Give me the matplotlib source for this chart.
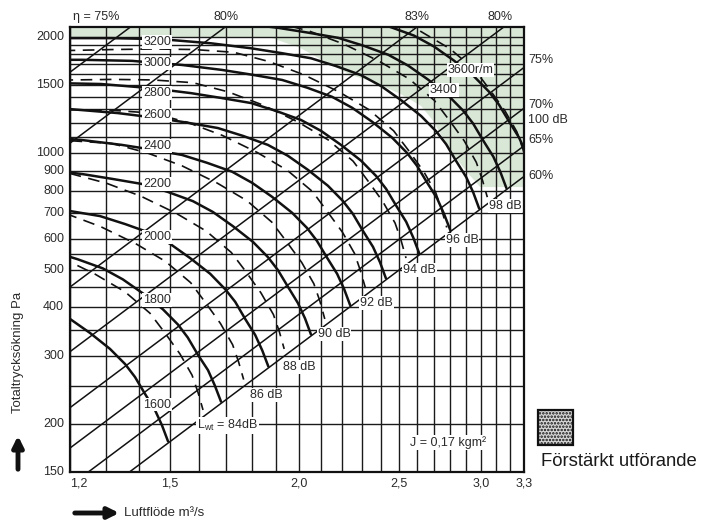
import matplotlib
matplotlib.use('Agg')
import matplotlib.pyplot as plt
from matplotlib.patches import Rectangle, FancyArrowPatch

plt.rcParams['font.family'] = ['Liberation Sans', 'DejaVu Sans']
plt.rcParams['mathtext.fontset'] = 'custom'
plt.rcParams['mathtext.rm'] = 'Liberation Sans'
plt.rcParams['hatch.linewidth'] = 1.2

# grid values
flow_grid = [1.2, 1.3, 1.4, 1.5, 1.6, 1.7, 1.8, 1.9, 2.0, 2.1, 2.2, 2.3, 2.4, 2.5,
             2.6, 2.7, 2.8, 2.9, 3.0, 3.1, 3.2, 3.3]
press_grid = [150, 200, 250, 300, 350, 400, 450, 500, 550, 600, 700, 800, 900, 1000,
              1100, 1200, 1300, 1400, 1500, 1600, 1700, 1800, 1900, 2000]
flow_ticks = [1.224, 1.5, 2.0, 2.5, 3.0, 3.3]
flow_tick_labels = ['1,2', '1,5', '2,0', '2,5', '3,0', '3,3']
press_ticks = [150, 200, 300, 400, 500, 600, 700, 800, 900, 1000, 1500, 2000]

# reinforced-version area (upper boundary = top of chart)
green_q = [1.2, 1.87, 2.0, 2.15, 2.24, 2.36, 2.5, 2.62, 2.69, 2.75, 2.81, 2.91, 2.99, 3.3]
green_p = [2000, 2000, 1880, 1690, 1600, 1530, 1430, 1330, 1220, 1100, 1000, 890, 820, 820]

# efficiency lines (two end points each)
eff_q1 = [1.2, 1.2, 1.2, 1.2, 1.2, 1.2, 1.25, 1.37]
eff_p1 = [1620, 1062, 451, 307, 220, 173, 150, 150]
eff_q2 = [1.373, 1.696, 2.60, 3.155, 3.3, 3.3, 3.3, 3.3]
eff_p2 = [2120, 2120, 2120, 2120, 1666, 1307, 1045, 871]

# fan speed curves (r/m)
rpm1600_q = [1.148, 1.2, 1.255, 1.312, 1.357, 1.387, 1.418, 1.450, 1.473, 1.493]
rpm1600_p = [398, 373, 343, 312, 285, 264, 239, 217, 198, 180]
rpm1800_q = [1.155, 1.221, 1.291, 1.35, 1.412, 1.476, 1.526, 1.560, 1.595, 1.632, 1.657, 1.680]
rpm1800_p = [557, 532, 504, 472, 434, 395, 361, 334, 302, 275, 251, 228]
rpm2000_q = [1.123, 1.2, 1.283, 1.357, 1.435, 1.5, 1.568, 1.640, 1.696, 1.734, 1.773, 1.813, 1.842, 1.867]
rpm2000_p = [730, 709, 688, 656, 622, 583, 536, 488, 445, 413, 373, 339, 309, 281]
rpm2200_q = [1.130, 1.235, 1.32, 1.412, 1.493, 1.578, 1.65, 1.725, 1.804, 1.865, 1.907, 1.950, 1.994, 2.026, 2.053]
rpm2200_p = [909, 883, 858, 832, 794, 752, 705, 648, 590, 539, 499, 452, 410, 374, 340]
rpm2400_q = [1.102, 1.232, 1.347, 1.44, 1.540, 1.628, 1.722, 1.8, 1.882, 1.968, 2.035, 2.080, 2.127, 2.176, 2.210, 2.240]
rpm2400_p = [1109, 1082, 1051, 1022, 990, 945, 896, 839, 772, 702, 641, 594, 538, 488, 446, 405]
rpm2600_q = [1.068, 1.194, 1.335, 1.460, 1.56, 1.668, 1.764, 1.865, 1.95, 2.039, 2.132, 2.204, 2.254, 2.304, 2.357, 2.394, 2.426]
rpm2600_p = [1310, 1302, 1270, 1233, 1199, 1162, 1109, 1051, 985, 906, 824, 753, 697, 631, 573, 523, 475]
rpm2800_q = [1.151, 1.286, 1.438, 1.572, 1.68, 1.797, 1.900, 2.008, 2.1, 2.196, 2.296, 2.374, 2.427, 2.482, 2.538, 2.578, 2.613]
rpm2800_p = [1519, 1510, 1473, 1430, 1390, 1348, 1286, 1219, 1142, 1050, 956, 873, 809, 732, 665, 606, 551]
rpm3000_q = [1.103, 1.233, 1.378, 1.541, 1.684, 1.8, 1.925, 2.036, 2.152, 2.25, 2.353, 2.460, 2.543, 2.600, 2.659, 2.720, 2.762, 2.800]
rpm3000_p = [1744, 1744, 1733, 1691, 1642, 1596, 1547, 1477, 1399, 1311, 1206, 1097, 1002, 928, 840, 763, 696, 633]
rpm3200_q = [1.067, 1.176, 1.315, 1.470, 1.643, 1.796, 1.92, 2.053, 2.171, 2.295, 2.4, 2.509, 2.624, 2.713, 2.774, 2.836, 2.901, 2.947, 2.986]
rpm3200_p = [1984, 1984, 1984, 1972, 1924, 1868, 1816, 1760, 1680, 1592, 1492, 1372, 1248, 1140, 1056, 956, 868, 792, 720]
rpm3400_q = [1.746, 1.909, 2.04, 2.182, 2.307, 2.439, 2.55, 2.666, 2.788, 2.883, 2.947, 3.013, 3.082, 3.131, 3.173]
rpm3400_p = [2172, 2109, 2050, 1987, 1897, 1797, 1684, 1549, 1409, 1287, 1192, 1079, 980, 894, 813]
rpm3600_q = [2.310, 2.443, 2.582, 2.7, 2.823, 2.952, 3.052, 3.120, 3.191, 3.263, 3.315]
rpm3600_p = [2228, 2126, 2015, 1888, 1736, 1580, 1443, 1337, 1210, 1099, 1002]

# sound power curves Lwt (dB), dashed
db84_q = [1.174, 1.269, 1.357, 1.434, 1.483, 1.533, 1.575, 1.596, 1.614]
db84_p = [539, 487, 438, 386, 343, 303, 267, 241, 217]
db86_q = [1.188, 1.285, 1.389, 1.485, 1.570, 1.623, 1.678, 1.724, 1.747, 1.767]
db86_p = [699, 646, 584, 525, 463, 411, 363, 320, 289, 260]
db88_q = [1.101, 1.203, 1.301, 1.406, 1.521, 1.626, 1.719, 1.777, 1.837, 1.888, 1.913, 1.934]
db88_p = [899, 885, 837, 774, 699, 629, 554, 493, 435, 383, 346, 312]
db90_q = [1.103, 1.205, 1.317, 1.424, 1.540, 1.665, 1.780, 1.881, 1.945, 2.011, 2.066, 2.094, 2.117]
db90_p = [1081, 1077, 1060, 1003, 928, 838, 754, 664, 590, 522, 460, 415, 373]
db92_q = [1.104, 1.207, 1.319, 1.442, 1.559, 1.685, 1.822, 1.948, 2.060, 2.129, 2.202, 2.262, 2.292, 2.318]
db92_p = [1291, 1295, 1291, 1270, 1202, 1112, 1004, 903, 796, 707, 625, 551, 497, 448]
db94_q = [1.081, 1.208, 1.321, 1.444, 1.578, 1.707, 1.845, 1.995, 2.133, 2.255, 2.331, 2.410, 2.476, 2.509, 2.537]
db94_p = [1537, 1547, 1552, 1547, 1522, 1441, 1332, 1204, 1083, 954, 848, 749, 660, 596, 536]
db96_q = [1.183, 1.323, 1.446, 1.581, 1.728, 1.868, 2.020, 2.184, 2.335, 2.468, 2.552, 2.639, 2.711, 2.747, 2.778]
db96_p = [1842, 1854, 1860, 1854, 1824, 1727, 1596, 1442, 1297, 1143, 1016, 897, 791, 714, 643]
db98_q = [1.731, 1.892, 2.045, 2.211, 2.390, 2.556, 2.702, 2.794, 2.889, 2.967, 3.007, 3.041]
db98_p = [2222, 2186, 2069, 1913, 1729, 1555, 1370, 1217, 1076, 948, 855, 770]
db100_q = [2.239, 2.420, 2.617, 2.798, 2.958, 3.058, 3.162, 3.248, 3.292, 3.329]
db100_p = [2480, 2293, 2071, 1863, 1642, 1459, 1289, 1136, 1025, 923]

rpm_labels = ['1600', '1800', '2000', '2200', '2400', '2600', '2800', '3000', '3200']
rpm_label_p = [224, 417, 607, 831, 1043, 1255, 1430, 1707, 1938]
db_labels = ['86 dB', '88 dB', '90 dB', '92 dB', '94 dB', '96 dB', '98 dB']
db_label_q = [1.857, 2.0, 2.161, 2.374, 2.613, 2.875, 3.163]
db_label_p = [237, 280, 341, 410, 499, 597, 730]
top_labels = ['η = 75%', '80%', '83%', '80%']
top_label_q = [1.272, 1.70, 2.60, 3.126]
right_labels = ['75%', '70%', '100 dB', '65%', '60%']
right_label_p = [1740, 1332, 1218, 1082, 873]


def main():
    fig = plt.figure(figsize=(7.02, 5.21), dpi=100)
    ax = fig.add_axes([70 / 702, 49 / 521, 454 / 702, 445 / 521])
    ax.set_xscale('log')
    ax.set_yscale('log')
    ax.set_xlim(1.2, 3.3)
    ax.set_ylim(150, 2120)

    ax.fill_between(green_q, green_p, 2120, color='#d9e7d7', lw=0, zorder=0)

    for q in flow_grid:
        ax.axvline(q, color='#1a1a1a', lw=1.0, zorder=1)
    for p in press_grid:
        ax.axhline(p, color='#1a1a1a', lw=1.0, zorder=1)

    for i in range(len(eff_q1)):
        ax.plot([eff_q1[i], eff_q2[i]], [eff_p1[i], eff_p2[i]], color='#111111', lw=1.1, zorder=2)

    dashed = [(db84_q, db84_p), (db86_q, db86_p), (db88_q, db88_p), (db90_q, db90_p),
              (db92_q, db92_p), (db94_q, db94_p), (db96_q, db96_p), (db98_q, db98_p),
              (db100_q, db100_p)]
    for q, p in dashed:
        ax.plot(q, p, color='#111111', lw=1.2, ls=(0, (7, 4.5)), zorder=3)

    solid = [(rpm1600_q, rpm1600_p), (rpm1800_q, rpm1800_p), (rpm2000_q, rpm2000_p),
             (rpm2200_q, rpm2200_p), (rpm2400_q, rpm2400_p), (rpm2600_q, rpm2600_p),
             (rpm2800_q, rpm2800_p), (rpm3000_q, rpm3000_p), (rpm3200_q, rpm3200_p),
             (rpm3400_q, rpm3400_p), (rpm3600_q, rpm3600_p)]
    for q, p in solid:
        ax.plot(q, p, color='#111111', lw=1.8, zorder=4, solid_capstyle='round')

    box = dict(facecolor='white', edgecolor='none', pad=0.6)
    txt = dict(fontsize=9, color='#2a2a2a', zorder=6)
    for lab, p in zip(rpm_labels, rpm_label_p):
        ax.text(1.457, p, lab, ha='center', va='center', bbox=box, **txt)
    ax.text(2.93, 1640, '3600r/m', ha='center', va='center', bbox=box, **txt)
    ax.text(2.76, 1455, '3400', ha='center', va='center', bbox=box, **txt)

    ax.text(1.592, 198, r'L$_{\mathrm{wt}}$ = 84dB', ha='left', va='center', bbox=box, **txt)
    for lab, q, p in zip(db_labels, db_label_q, db_label_p):
        ax.text(q, p, lab, ha='center', va='center', bbox=box, **txt)
    ax.text(2.785, 179, 'J = 0,17 kgm²', ha='center', va='center', bbox=box, **txt)

    for lab, q in zip(top_labels, top_label_q):
        ax.text(q, 2247, lab, ha='center', va='center', clip_on=False, **txt)
    for lab, p in zip(right_labels, right_label_p):
        ax.text(3.329, p, lab, ha='left', va='center', clip_on=False, **txt)

    ax.set_xticks([])
    ax.set_yticks([])
    ax.minorticks_off()
    for q, lab in zip(flow_ticks, flow_tick_labels):
        ax.text(q, -0.025, lab, ha='center', va='center', transform=ax.get_xaxis_transform(), **txt)
    for p in press_ticks:
        ax.text(-0.013, p, str(p), ha='right', va='center', transform=ax.get_yaxis_transform(), **txt)

    for s in ax.spines.values():
        s.set_linewidth(1.6)
        s.set_color('#111111')

    # axis titles with arrows
    fig.text(18 / 702, (521 - 352) / 521, 'Totaltrycksökning Pa', rotation=90,
             ha='center', va='center', fontsize=9.5, color='#2a2a2a')
    fig.add_artist(FancyArrowPatch((18 / 702, (521 - 472) / 521), (18 / 702, (521 - 433) / 521),
                                   transform=fig.transFigure, arrowstyle='-|>',
                                   mutation_scale=16, lw=3.5, color='#111111'))
    fig.text(124 / 702, (521 - 513) / 521, 'Luftflöde m³/s', ha='left', va='center',
             fontsize=9.5, color='#2a2a2a')
    fig.add_artist(FancyArrowPatch((72 / 702, (521 - 513) / 521), (122 / 702, (521 - 513) / 521),
                                   transform=fig.transFigure, arrowstyle='-|>',
                                   mutation_scale=16, lw=3.5, color='#111111'))

    # legend for reinforced version
    fig.add_artist(Rectangle((538 / 702, (521 - 445) / 521), 35 / 702, 35 / 521,
                             transform=fig.transFigure, facecolor='#d8d8d8',
                             edgecolor='#111111', hatch='.....', lw=1.6))
    fig.text(541 / 702, (521 - 462) / 521, 'Förstärkt utförande', ha='left', va='center',
             fontsize=13.3, color='#1a1a1a')

    fig.savefig('out.png', dpi=100)
    plt.close(fig)


if __name__ == '__main__':
    main()
